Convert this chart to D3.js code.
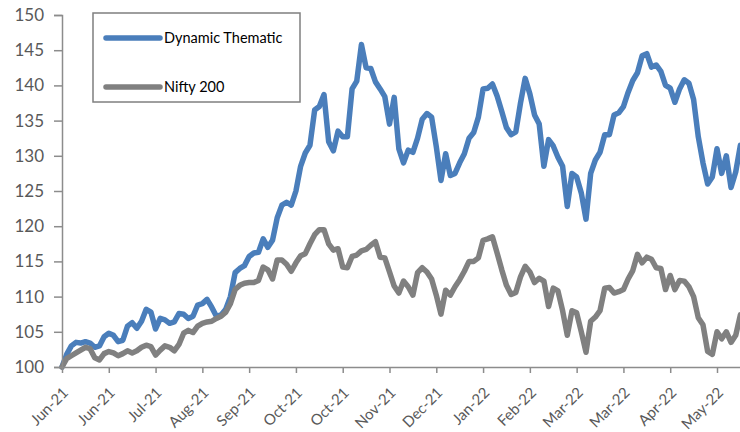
<!DOCTYPE html>
<html>
<head>
<meta charset="utf-8">
<script src="https://cdn.jsdelivr.net/npm/d3@7"></script>
<style>
  html, body { margin: 0; padding: 0; background: #fff; }
  svg { display: block; }
</style>
</head>
<body>
<svg id="chart" width="740" height="432"></svg>
<script>
const xLabels = ["Jun-21","Jun-21","Jul-21","Aug-21","Sep-21","Oct-21","Oct-21","Nov-21",
                 "Dec-21","Jan-22","Feb-22","Mar-22","Mar-22","Apr-22","May-22"];
const yTicks = [100,105,110,115,120,125,130,135,140,145,150];
const seriesNames = ["Dynamic Thematic","Nifty 200"];

const dynamicThematic = [
  100.0,101.8,103.0,103.5,103.4,103.6,103.4,102.8,103.0,104.3,
  104.8,104.5,103.6,103.8,105.8,106.3,105.5,106.5,108.2,107.8,
  105.4,106.9,106.7,106.2,106.4,107.6,107.5,106.9,107.2,108.8,
  109.0,109.6,108.5,107.2,107.4,108.2,110.0,113.4,114.0,114.4,
  115.7,116.2,116.3,118.2,117.0,118.0,121.2,123.0,123.4,123.0,
  125.0,128.5,130.4,131.5,136.5,137.0,138.7,132.0,130.7,133.5,
  132.7,132.7,139.5,140.6,145.8,142.5,142.4,140.5,139.5,138.4,
  134.5,138.3,131.0,129.0,130.8,130.5,132.5,135.2,136.0,135.5,
  131.3,126.5,130.3,127.2,127.5,129.0,130.3,132.5,133.3,135.5,
  139.5,139.6,140.2,138.5,136.3,134.0,133.0,133.4,137.5,141.0,
  138.8,135.8,134.5,128.5,132.3,131.4,129.8,128.5,122.8,127.5,
  127.0,124.7,121.0,127.5,129.4,130.5,133.0,133.0,135.8,136.1,
  137.0,139.0,140.7,141.8,144.2,144.5,142.6,142.9,142.0,140.0,
  139.6,137.6,139.5,140.8,140.3,138.0,132.7,129.0,126.0,127.0,
  131.0,127.5,130.0,125.5,127.7,131.5
];
const nifty200 = [
  100.0,101.2,101.6,102.0,102.4,102.8,102.6,101.3,101.0,101.9,
  102.2,102.0,101.6,101.9,102.3,102.0,102.3,102.8,103.1,102.9,
  101.7,102.4,103.0,102.8,102.3,103.2,104.8,105.2,104.9,105.8,
  106.2,106.4,106.5,106.9,107.2,107.8,109.0,111.0,111.6,111.9,
  112.0,112.0,112.3,114.2,113.8,112.5,115.2,115.2,114.6,113.6,
  114.8,115.8,116.1,117.5,118.8,119.5,119.5,117.5,116.6,116.8,
  114.2,114.1,115.7,115.9,116.5,116.7,117.3,117.8,115.6,115.5,
  113.5,111.5,110.5,112.2,111.4,110.2,113.4,114.1,113.5,112.5,
  110.2,107.5,110.9,110.2,111.4,112.4,113.6,115.0,115.0,115.5,
  118.0,118.2,118.5,116.2,113.8,111.6,110.3,110.6,112.8,114.3,
  113.5,112.0,112.6,112.2,108.6,111.2,110.8,108.0,104.5,108.0,
  107.7,105.0,102.1,106.5,107.1,108.0,111.2,111.3,110.5,110.7,
  111.0,112.5,113.7,116.0,114.8,115.6,115.3,114.1,114.0,111.0,
  113.0,111.0,112.3,112.2,111.4,110.0,107.0,106.0,102.2,101.8,
  105.0,104.0,105.0,103.5,104.5,107.4
];

const svg = d3.select("#chart");
const axisColor = "#8c8c8c";
const textColor = "#595959";
const fontFam = "Lato, 'Open Sans', sans-serif";

const x = d3.scaleLinear().domain([0, 140]).range([62, 717]);
const y = d3.scaleLinear().domain([100, 150]).range([367, 15]);

// Lines
const line = d3.line().x((d, i) => x(i)).y(d => y(d));
const colors = ["#4a7ebb", "#808080"];
[dynamicThematic, nifty200].forEach((s, k) => {
  svg.append("path")
    .datum(s)
    .attr("fill", "none")
    .attr("stroke", colors[k])
    .attr("stroke-width", 5.5)
    .attr("stroke-linejoin", "round")
    .attr("stroke-linecap", "round")
    .attr("d", line);
});

// Y axis
const yAxis = d3.axisLeft(y).tickValues(yTicks).tickSize(8).tickPadding(10);
const gy = svg.append("g").attr("transform", "translate(62,0)").call(yAxis);
gy.select(".domain").attr("stroke", axisColor).attr("stroke-width", 1.5);
gy.selectAll(".tick line").attr("stroke", axisColor).attr("stroke-width", 1.5);
gy.selectAll(".tick text").attr("fill", textColor).style("font-family", fontFam).style("font-size", "17px");

// X axis
const xTickIdx = xLabels.map((d, i) => i * 10);
const xAxis = d3.axisBottom(x).tickValues(xTickIdx).tickSize(6).tickFormat((d, i) => xLabels[i]);
const gx = svg.append("g").attr("transform", "translate(0,367)").call(xAxis);
gx.select(".domain").attr("stroke", axisColor).attr("stroke-width", 1.5).attr("d", "M62,0.5H740");
gx.selectAll(".tick line").attr("stroke", axisColor).attr("stroke-width", 1.5);
gx.selectAll(".tick text")
  .attr("fill", textColor)
  .style("font-family", fontFam).style("font-size", "15px")
  .attr("text-anchor", "end")
  .attr("dy", "0.35em")
  .attr("transform", "translate(3,23) rotate(-45)")
  .attr("y", 0).attr("x", 0);

// Legend
const lg = svg.append("g");
lg.append("rect").attr("x", 93).attr("y", 13).attr("width", 207).attr("height", 89)
  .attr("fill", "#fff").attr("stroke", "#7f7f7f").attr("stroke-width", 1.5);
seriesNames.forEach((n, k) => {
  const yy = k === 0 ? 38 : 87;
  lg.append("line").attr("x1", 106).attr("x2", 160).attr("y1", yy).attr("y2", yy)
    .attr("stroke", colors[k]).attr("stroke-width", 5.5).attr("stroke-linecap", "round");
  lg.append("text").attr("x", 164).attr("y", yy).attr("dy", "0.35em")
    .attr("fill", "#000").style("font-family", fontFam).style("font-size", "14.5px").text(n);
});
</script>
</body>
</html>
